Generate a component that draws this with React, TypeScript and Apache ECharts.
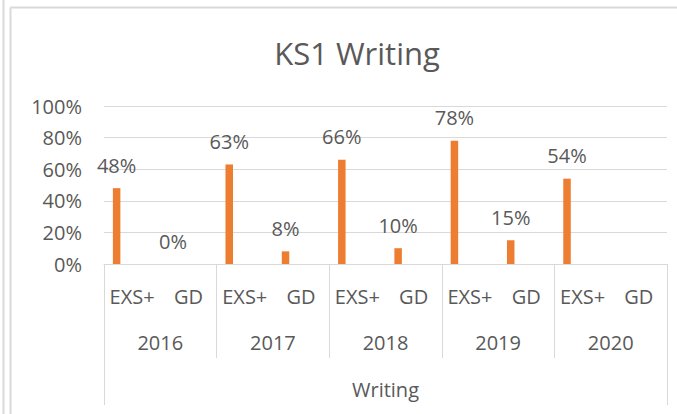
import React, { useEffect, useRef } from "react";
import * as echarts from "echarts";

const categories = ["EXS+", "GD", "EXS+", "GD", "EXS+", "GD", "EXS+", "GD", "EXS+", "GD"];
const years = ["2016", "2017", "2018", "2019", "2020"];
const subject = ["Writing"];
const writingValues = [48, 0, 63, 8, 66, 10, 78, 15, 54, null];
const yTicks = { min: 0, max: 100, interval: 20 };

const FONT = "Open Sans";
const TEXT = "#595959";
const LINE = "#d9d9d9";
const ORANGE = "#ed7d31";

export default function App() {
  const ref = useRef<HTMLDivElement>(null);

  useEffect(() => {
    if (!ref.current) return;
    const chart = echarts.init(ref.current, null, { renderer: "svg" });
    const labelStyle = { fontFamily: FONT, fontSize: 20, color: TEXT };
    chart.setOption({
      animation: false,
      backgroundColor: "#ffffff",
      title: {
        text: "KS1 Writing",
        left: 352,
        top: 32,
        textAlign: "center",
        textStyle: { fontFamily: FONT, fontSize: 31, fontWeight: "normal", color: TEXT },
      },
      graphic: [
        { type: "line", shape: { x1: 3.5, y1: 0, x2: 3.5, y2: 414 }, style: { stroke: LINE, lineWidth: 2 } },
        { type: "line", shape: { x1: 10.5, y1: 7.5, x2: 10.5, y2: 414 }, style: { stroke: LINE, lineWidth: 2 } },
        { type: "line", shape: { x1: 10.5, y1: 7.5, x2: 677, y2: 7.5 }, style: { stroke: LINE, lineWidth: 2 } },
      ],
      grid: { left: 104, right: 10, top: 106, bottom: 150, containLabel: false },
      xAxis: [
        {
          type: "category",
          data: categories,
          position: "bottom",
          axisLine: { show: true, lineStyle: { color: LINE, width: 1 } },
          axisTick: { show: false },
          axisLabel: { ...labelStyle, interval: 0, margin: 22 },
        },
        {
          type: "category",
          data: years,
          position: "bottom",
          axisLine: { show: false },
          axisTick: { show: true, interval: 0, length: 94, lineStyle: { color: LINE, width: 1 } },
          axisLabel: { ...labelStyle, interval: 0, margin: 68 },
        },
        {
          type: "category",
          data: subject,
          position: "bottom",
          axisLine: { show: false },
          axisTick: { show: true, interval: 0, length: 141, lineStyle: { color: LINE, width: 1 } },
          axisLabel: { ...labelStyle, interval: 0, margin: 115 },
        },
      ],
      yAxis: {
        type: "value",
        min: yTicks.min,
        max: yTicks.max,
        interval: yTicks.interval,
        axisLine: { show: false },
        axisTick: { show: false },
        axisLabel: { ...labelStyle, margin: 22, formatter: "{value}%" },
        splitLine: { show: true, lineStyle: { color: LINE, width: 1 } },
      },
      series: [
        {
          name: "Writing",
          type: "bar",
          xAxisIndex: 0,
          data: writingValues,
          barWidth: 7.5,
          barGap: "107%",
          itemStyle: { color: ORANGE },
          label: {
            show: true,
            position: "top",
            distance: 13,
            formatter: "{c}%",
            ...labelStyle,
          },
        },
        { name: "s2", type: "bar", xAxisIndex: 0, data: [], barWidth: 7.5, barGap: "107%" },
        { name: "s3", type: "bar", xAxisIndex: 0, data: [], barWidth: 7.5, barGap: "107%" },
      ],
    });
    return () => chart.dispose();
  }, []);

  return (
    <div
      ref={ref}
      style={{ position: "absolute", left: 0, top: 0, width: 677, height: 414 }}
    />
  );
}
